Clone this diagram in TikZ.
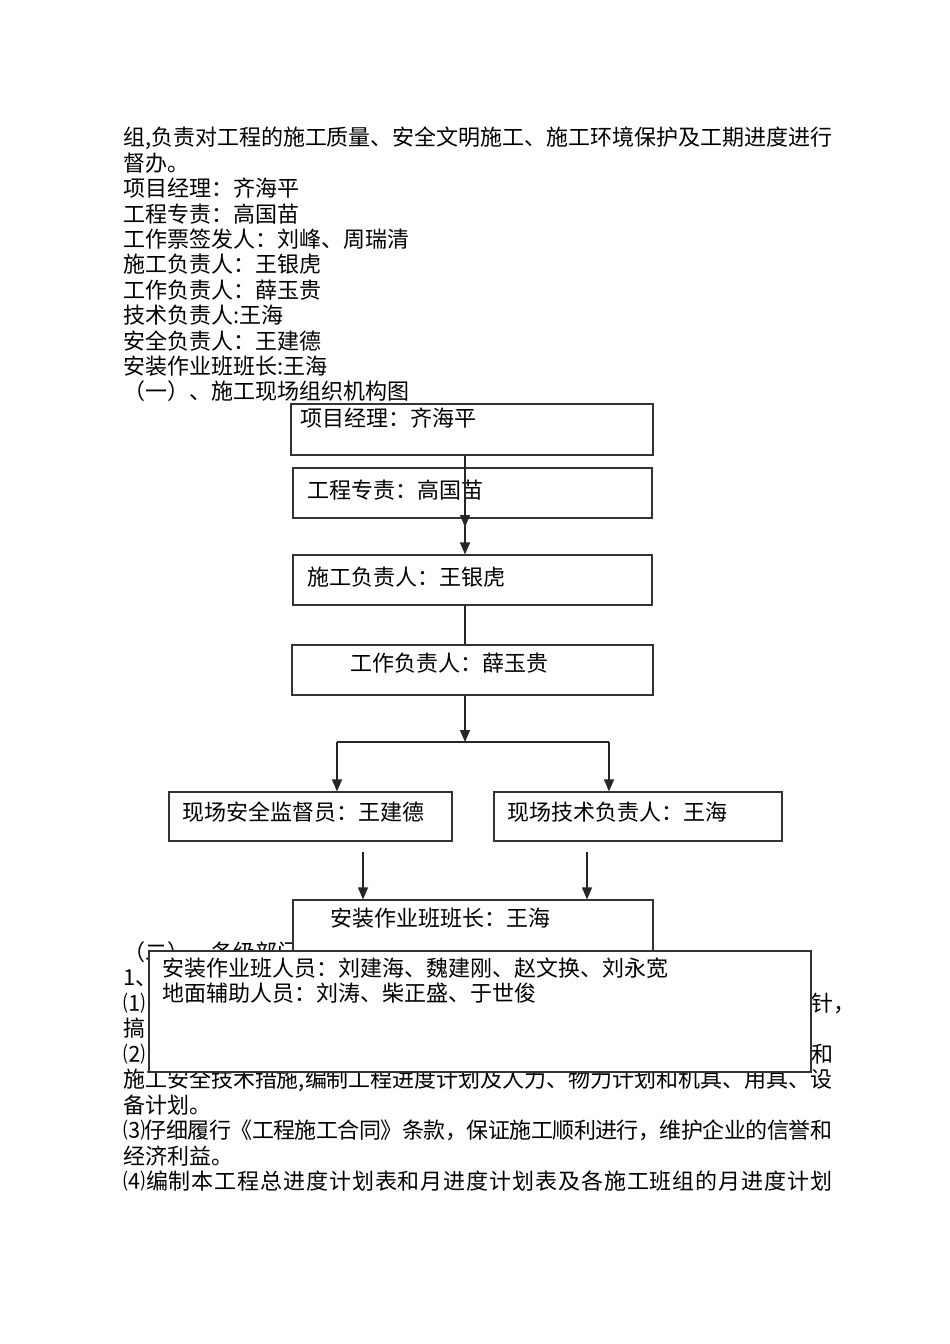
\documentclass[tikz,border=0pt]{standalone}
\usepackage{fontspec}
\setmainfont{Noto Sans CJK SC}
\usetikzlibrary{arrows.meta}
% spread a text line over the full text width
\ExplSyntaxOn
\NewDocumentCommand\fullline{m}{\makebox[709pt][s]{\tl_map_inline:nn{#1}{##1\hskip~0pt~plus~1fil~minus~4pt\relax}\unskip}}
\ExplSyntaxOff

\begin{document}
\begin{tikzpicture}[x=1pt, y=-1pt, every node/.style={font=\fontsize{22}{25.5}\selectfont},
  box/.style={rectangle, draw=black!80, line width=1.2pt, fill=white, inner sep=0pt},
  txt/.style={anchor=west, inner sep=0pt, text height=19.4pt, text depth=2.6pt},
  line/.style={draw=black!85, line width=1.2pt},
  arr/.style={line, -{Triangle[length=12pt,width=10pt]}}]
  \useasboundingbox (0,0) rectangle (950,1344);
  \fill[white] (0,0) rectangle (950,1344);
  % Page text above the chart
  \node[txt] (p1)  at (123,137.5) {\fullline{组,负责对工程的施工质量、安全文明施工、施工环境保护及工期进度进行}};
  \node[txt] (p2)  at (123,163) {督办。};
  \node[txt] (p3)  at (123,188.3) {项目经理：齐海平};
  \node[txt] (p4)  at (123,213.7) {工程专责：高国苗};
  \node[txt] (p5)  at (123,239.1) {工作票签发人：刘峰、周瑞清};
  \node[txt] (p6)  at (123,264.5) {施工负责人：王银虎};
  \node[txt] (p7)  at (123,289.9) {工作负责人：薛玉贵};
  \node[txt] (p8)  at (123,315.3) {技术负责人:王海};
  \node[txt] (p9)  at (123,340.7) {安全负责人：王建德};
  \node[txt] (p10) at (123,366.1) {安装作业班班长:王海};
  \node[txt] (p11) at (123,391.5) {（一）、施工现场组织机构图};
  % Page text below the chart (partly covered by the last box)
  \node[txt] (q1)  at (123,952) {（二）、各级部门};
  \node[txt] (q2)  at (123,977.5) {1、};
  \node[txt] (q3)  at (123,1003) {⑴};
  \node[txt] (q3r) at (811,1003) {针，};
  \node[txt] (q4)  at (123,1028.5) {搞};
  \node[txt] (q5)  at (123,1054) {⑵};
  \node[txt] (q5r) at (811,1054) {和};
  \node[txt] (q6)  at (123,1079.5) {\fullline{施工安全技术措施,编制工程进度计划及人力、物力计划和机具、用具、设}};
  \node[txt] (q7)  at (123,1105) {备计划。};
  \node[txt] (q8)  at (123,1130.5) {\fullline{⑶仔细履行《工程施工合同》条款，保证施工顺利进行，维护企业的信誉和}};
  \node[txt] (q9)  at (123,1156) {经济利益。};
  \node[txt] (q10) at (123,1181.5) {\fullline{⑷编制本工程总进度计划表和月进度计划表及各施工班组的月进度计划}};
  % Chart boxes
  \node[box, minimum width=362pt, minimum height=51pt] (pm)   at (472,429.5) {};
  \node[box, minimum width=359pt, minimum height=50pt] (eng)  at (472.5,493) {};
  \node[box, minimum width=359pt, minimum height=50pt] (con)  at (472.5,580) {};
  \node[box, minimum width=361pt, minimum height=50pt] (wrk)  at (472.5,670) {};
  \node[box, minimum width=283pt, minimum height=49pt] (safe) at (310.5,816.5) {};
  \node[box, minimum width=288pt, minimum height=49pt] (tech) at (638,816.5) {};
  \node[box, minimum width=360pt, minimum height=65pt] (lead) at (473,932.5) {};
  \node[box, minimum width=662pt, minimum height=121pt] (crew) at (480,1011.5) {};
  % Box labels
  \node[txt] (pmt)    at (300,418) {项目经理：齐海平};
  \node[txt] (engt)   at (307,490) {工程专责：高国苗};
  \node[txt] (cont)   at (307,577) {施工负责人：王银虎};
  \node[txt] (wrkt)   at (350,663) {工作负责人：薛玉贵};
  \node[txt] (safet)  at (182,812) {现场安全监督员：王建德};
  \node[txt] (techt)  at (507,812) {现场技术负责人：王海};
  \node[txt] (leadt)  at (330,918) {安装作业班班长：王海};
  \node[txt] (crewt1) at (162,968) {安装作业班人员：刘建海、魏建刚、赵文换、刘永宽};
  \node[txt] (crewt2) at (162,993) {地面辅助人员：刘涛、柴正盛、于世俊};
  % Connectors
  \coordinate (mid)  at (465,0);
  \coordinate (a1)   at (465,527);
  \coordinate (bus)  at (465,742);
  \coordinate (busl) at (337,742);
  \coordinate (busr) at (609,742);
  \coordinate (sl)   at (363,852);
  \coordinate (sr)   at (587,852);
  \draw[arr] (pm.south -| mid) -- (a1);
  \draw[arr] (eng.south -| mid) -- (con.north -| mid);
  \draw[line] (con.south -| mid) -- (wrk.north -| mid);
  \draw[arr] (wrk.south -| mid) -- (bus);
  \draw[line] (busl) -- (busr);
  \draw[arr] (busl) -- (safe.north -| busl);
  \draw[arr] (busr) -- (tech.north -| busr);
  \draw[arr] (sl) -- (lead.north -| sl);
  \draw[arr] (sr) -- (lead.north -| sr);
\end{tikzpicture}
\end{document}
